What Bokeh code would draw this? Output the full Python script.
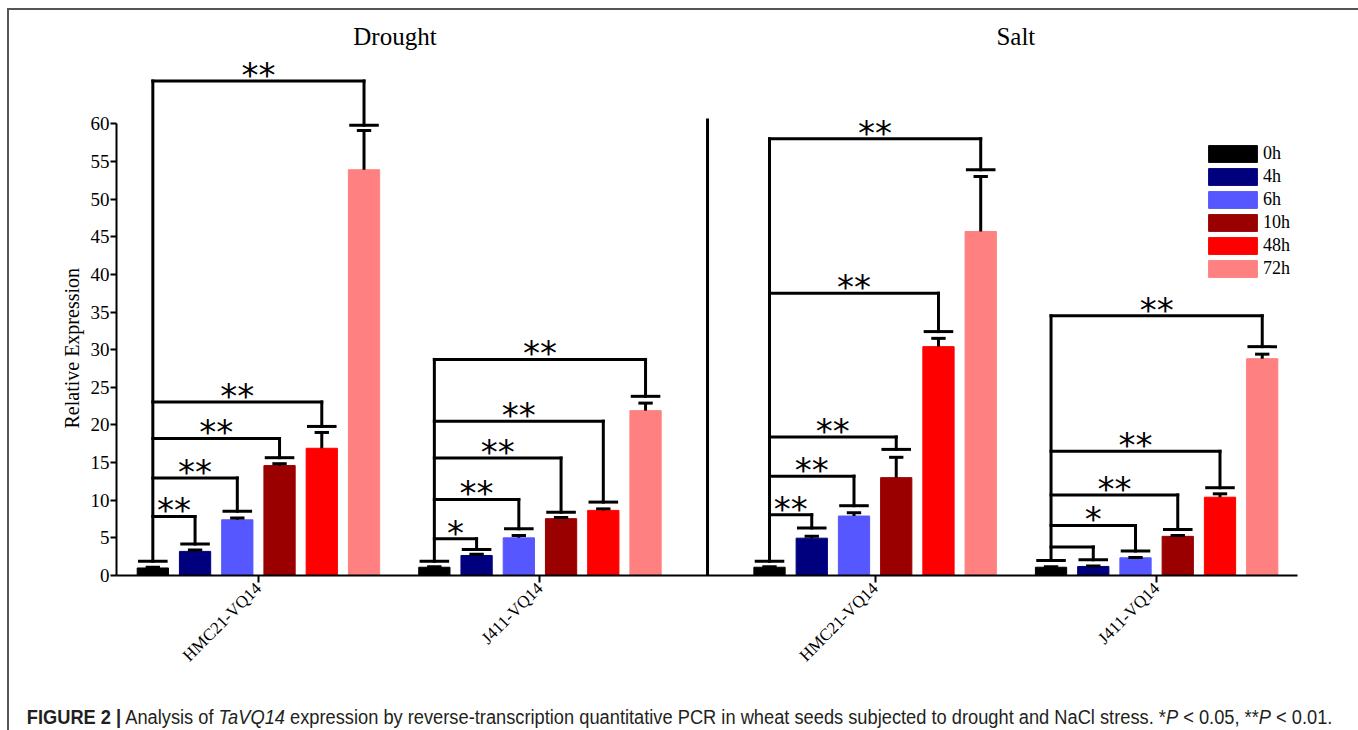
from bokeh.plotting import figure
from bokeh.models import Range1d, FixedTicker, Div, Title
from bokeh.layouts import column
from bokeh.embed import file_html
from bokeh.resources import INLINE
from bokeh.core.properties import value
import math

# ---------------- data ----------------
times = ["0h", "4h", "6h", "10h", "48h", "72h"]
colors = ["#000000", "#00007f", "#5757ff", "#9b0000", "#ff0000", "#ff8080"]
conditions = ["Drought", "Salt"]
genes = ["HMC21-VQ14", "J411-VQ14"]

# relative expression (mean) and upper error per time point
drought_hmc21_mean = [1.0, 3.2, 7.4, 14.6, 16.9, 53.9]
drought_hmc21_sd = [0.1, 0.2, 0.25, 0.25, 2.1, 5.2]
drought_j411_mean = [1.1, 2.66, 5.0, 7.55, 8.65, 21.9]
drought_j411_sd = [0.05, 0.15, 0.3, 0.15, 0.2, 1.0]
salt_hmc21_mean = [1.1, 4.96, 7.9, 13.0, 30.4, 45.7]
salt_hmc21_sd = [0.05, 0.25, 0.45, 2.7, 1.1, 7.3]
salt_j411_mean = [1.1, 1.2, 2.35, 5.2, 10.4, 28.8]
salt_j411_sd = [0.05, 0.05, 0.05, 0.1, 0.45, 0.6]

# significance brackets vs 0h: cap height above each bar, bracket height for 4h..72h
drought_hmc21_cap = [1.9, 4.2, 8.55, 15.65, 19.8, 59.8]
drought_hmc21_bracket = [7.85, 12.95, 18.2, 23.05, 65.7]
drought_hmc21_sig = ["**", "**", "**", "**", "**"]
drought_j411_cap = [1.9, 3.46, 6.2, 8.4, 9.75, 23.8]
drought_j411_bracket = [4.88, 10.1, 15.6, 20.5, 28.7]
drought_j411_sig = ["*", "**", "**", "**", "**"]
salt_hmc21_cap = [1.9, 6.3, 9.27, 16.75, 32.4, 53.9]
salt_hmc21_bracket = [8.07, 13.2, 18.4, 37.5, 58.0]
salt_hmc21_sig = ["**", "**", "**", "**", "**"]
salt_j411_cap = [2.0, 2.1, 3.25, 6.1, 11.66, 30.4]
salt_j411_bracket = [3.77, 6.65, 10.7, 16.5, 34.5]
salt_j411_sig = ["", "*", "**", "**", "**"]

y_ticks = list(range(0, 61, 5))

# ---------------- layout ----------------
means = [drought_hmc21_mean, drought_j411_mean, salt_hmc21_mean, salt_j411_mean]
sds = [drought_hmc21_sd, drought_j411_sd, salt_hmc21_sd, salt_j411_sd]
caps = [drought_hmc21_cap, drought_j411_cap, salt_hmc21_cap, salt_j411_cap]
brackets = [drought_hmc21_bracket, drought_j411_bracket, salt_hmc21_bracket, salt_j411_bracket]
sigs = [drought_hmc21_sig, drought_j411_sig, salt_hmc21_sig, salt_j411_sig]

GENE_GAP = 6.665
PANEL_GAP = 14.6
offsets = [0.0, GENE_GAP, PANEL_GAP, PANEL_GAP + GENE_GAP]
BAR_W = 0.74
ERR_HALF = 0.17
CAP_HALF = 0.35

SERIF = "Liberation Serif"

W = 1341
H = 688
p = figure(width=W, height=H, output_backend="svg", toolbar_location=None,
           x_range=Range1d(-0.86, 27.1), y_range=Range1d(0, 75.05),
           min_border_left=107, min_border_right=53, min_border_top=0,
           min_border_bottom=H - 565)
p.outline_line_color = None
p.xgrid.visible = False
p.ygrid.visible = False
p.background_fill_color = "white"

# bars
for i, t in enumerate(times):
    xs = [off + i for off in offsets]
    tops = [m[i] for m in means]
    p.vbar(x=xs, top=tops, bottom=0, width=BAR_W, fill_color=colors[i],
           line_color=colors[i], line_width=1, legend_label=t)

# error bars
ex0, ey0, ex1, ey1 = [], [], [], []
for g, off in enumerate(offsets):
    for i in range(len(times)):
        x = off + i
        m = means[g][i]
        top = m + sds[g][i]
        ex0 += [x, x - ERR_HALF]
        ey0 += [m, top]
        ex1 += [x, x + ERR_HALF]
        ey1 += [top, top]
p.segment(x0=ex0, y0=ey0, x1=ex1, y1=ey1, line_color="black", line_width=3)

# significance brackets
bx0, by0, bx1, by1 = [], [], [], []
cx0, cy0, cx1, cy1 = [], [], [], []
tx, ty, tt = [], [], []
for g, off in enumerate(offsets):
    x0 = off
    bmax = max(brackets[g])
    bx0.append(x0); by0.append(caps[g][0]); bx1.append(x0); by1.append(bmax)
    for i in range(len(times)):
        x = off + i
        cx0.append(x - CAP_HALF); cy0.append(caps[g][i])
        cx1.append(x + CAP_HALF); cy1.append(caps[g][i])
    for k, b in enumerate(brackets[g]):
        xi = off + k + 1
        bx0 += [x0, xi]; by0 += [b, b]
        bx1 += [xi, xi]; by1 += [b, caps[g][k + 1]]
        tx.append((x0 + xi) / 2); ty.append(b); tt.append(sigs[g][k])
p.segment(x0=bx0, y0=by0, x1=bx1, y1=by1, line_color="black", line_width=3,
          line_cap="square")
p.segment(x0=cx0, y0=cy0, x1=cx1, y1=cy1, line_color="black", line_width=3)
p.text(x=tx, y=ty, text=tt, text_align="center", text_baseline="alphabetic",
       y_offset=-6, text_font=value("DejaVu Sans"), text_font_size="34px",
       text_color="black")

# panel separator
sep_x = (offsets[1] + len(times) - 1 + offsets[2]) / 2
p.segment(x0=[sep_x], y0=[0], x1=[sep_x], y1=[60.7], line_color="black", line_width=3)

# panel titles
title_x = [(offsets[0] + offsets[1]) / 2 + 2.4, (offsets[2] + offsets[3]) / 2 + 2.5]
p.text(x=title_x, y=[71.6, 71.6], text=conditions, text_align="center",
       text_baseline="middle", text_font=value(SERIF), text_font_size="25px",
       text_color="black")

# axes
centers = [round(off + 2.5, 3) for off in offsets]
p.xaxis.ticker = FixedTicker(ticks=centers)
p.xaxis.major_label_overrides = {c: genes[j % 2] for j, c in enumerate(centers)}
p.xaxis.major_label_orientation = math.pi / 4
p.xaxis.minor_tick_line_color = None
p.xaxis.major_tick_out = 7
p.xaxis.major_tick_in = 0
p.xaxis.major_tick_line_width = 2
p.xaxis.axis_line_width = 2
p.xaxis.major_label_text_font = SERIF
p.xaxis.major_label_text_font_size = "17px"
p.xaxis.major_label_text_color = "black"
p.xaxis.major_label_standoff = 3

p.yaxis.ticker = FixedTicker(ticks=y_ticks)
p.yaxis.bounds = (0, 60)
p.yaxis.minor_tick_line_color = None
p.yaxis.major_tick_out = 6
p.yaxis.major_tick_in = 0
p.yaxis.major_tick_line_width = 2
p.yaxis.axis_line_width = 2
p.yaxis.major_label_text_font = SERIF
p.yaxis.major_label_text_font_size = "19px"
p.yaxis.major_label_text_color = "black"
p.yaxis.major_label_standoff = 1

# y-axis title placed along the 0-60 span of the axis
p.add_layout(Title(text="Relative Expression", align="left", offset=147,
                   standoff=10, text_font=SERIF, text_font_size="20px",
                   text_font_style="normal", text_color="black"), "left")

# legend
lg = p.legend[0]
lg.location = (1086, 296)
lg.padding = 0
lg.margin = 0
lg.border_line_color = None
lg.background_fill_alpha = 0
lg.glyph_width = 61
lg.glyph_height = 21
lg.label_height = 21
lg.spacing = 2
lg.label_standoff = 0
lg.label_text_font = SERIF
lg.label_text_font_size = "18px"
lg.label_text_color = "black"

caption = Div(
    text=('<span style="font-weight:bold">FIGURE 2 |</span> Analysis of <i>TaVQ14</i> '
          'expression by reverse-transcription quantitative PCR in wheat seeds subjected '
          'to drought and NaCl stress. *<i>P</i> &lt; 0.05, **<i>P</i> &lt; 0.01.'),
    width=W, height=26,
    styles={"font-family": "'Liberation Sans', Arial, sans-serif",
            "font-size": "20px", "color": "#231f20", "white-space": "nowrap",
            "padding-left": "14px", "transform": "scaleX(0.913)",
            "transform-origin": "left center"})

layout = column(p, caption, spacing=0,
                styles={"border-top": "2px solid #555", "border-left": "2px solid #555",
                        "border-right": "2px solid #555",
                        "margin-left": "7px", "margin-top": "8px"})

open("out.html", "w").write(file_html(layout, INLINE))
